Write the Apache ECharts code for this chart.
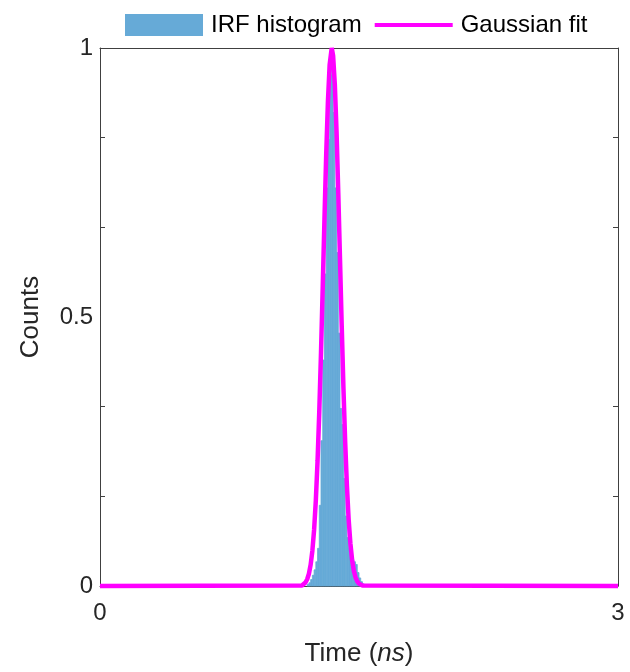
<!DOCTYPE html>
<html>
<head>
<meta charset="utf-8">
<script src="https://cdn.jsdelivr.net/npm/echarts@6/dist/echarts.min.js"></script>
<style>
html,body{margin:0;padding:0;background:#fff;}
#chart{width:630px;height:672px;}
</style>
</head>
<body>
<div id="chart"></div>
<script>
// ---- data ----
const histCenters = [1.205,1.215,1.225,1.235,1.245,1.255,1.265,1.275,1.285,1.295,1.305,1.315,1.325,1.335,1.345,1.355,1.365,1.375,1.385,1.395,1.405,1.415,1.425,1.435,1.445,1.455,1.465,1.475,1.485,1.495,1.505,1.515,1.525];
const histCounts  = [0.003,0.006,0.012,0.02,0.03,0.045,0.07,0.15,0.27,0.42,0.58,0.74,0.83,0.98,0.95,0.88,0.74,0.62,0.47,0.33,0.30,0.20,0.13,0.09,0.07,0.06,0.05,0.045,0.04,0.025,0.015,0.008,0.004];
const binWidth = 0.01;

const fitTime   = [0,1.17,1.19,1.20,1.21,1.22,1.23,1.24,1.25,1.26,1.27,1.28,1.29,1.30,1.31,1.32,1.33,1.342,1.35,1.36,1.37,1.38,1.39,1.40,1.41,1.42,1.43,1.44,1.45,1.46,1.47,1.48,1.49,1.50,1.52,3];
const fitCounts = [0,0.001,0.0066,0.0126,0.0228,0.0396,0.0657,0.1046,0.1593,0.2324,0.3247,0.434,0.556,0.682,0.801,0.900,0.969,1.0,0.986,0.932,0.844,0.731,0.607,0.482,0.3666,0.267,0.1863,0.124,0.0796,0.0487,0.0286,0.016,0.0086,0.0044,0.001,0];

const yLabelValues = [0, 0.5, 1];
const yTickValues  = [1/6, 2/6, 4/6, 5/6];
const xLabelValues = [0, 3];

// ---- chart ----
const FONT = 'Liberation Sans, Arial, Helvetica, sans-serif';
const TXT = '#262626';
const AX = '#404040';
const BLUE = '#66aad7';
const MAG = '#ff00ff';

const histData = histCenters.map((c, i) => [c - binWidth / 2, c + binWidth / 2, histCounts[i]]);
const fitData = fitTime.map((t, i) => [t, fitCounts[i]]);

const chart = echarts.init(document.getElementById('chart'), null, {renderer: 'canvas'});
chart.setOption({
  animation: false,
  backgroundColor: '#fff',
  textStyle: {fontFamily: FONT, color: TXT},
  grid: {left: 100, right: 12, top: 48, bottom: 80, containLabel: false},
  legend: {
    left: 120, top: 8,
    itemWidth: 78, itemHeight: 22, itemGap: 13,
    textStyle: {fontFamily: FONT, fontSize: 24, color: '#000', padding: [0, 0, 0, 3]},
    data: [
      {name: 'IRF histogram', icon: 'rect'},
      {name: 'Gaussian fit', icon: 'path://M0,0 L80,0 L80,4 L0,4 Z'}
    ]
  },
  xAxis: [{
    type: 'value', min: 0, max: 3, position: 'bottom',
    name: 'Time ({i|ns})', nameLocation: 'middle', nameGap: 55,
    nameTextStyle: {fontFamily: FONT, fontSize: 26, color: TXT, rich: {i: {fontStyle: 'italic', fontSize: 26, fontFamily: FONT, color: TXT}}},
    axisLine: {show: true, lineStyle: {color: AX, width: 1}},
    axisTick: {show: false},
    splitLine: {show: false},
    axisLabel: {customValues: xLabelValues, fontSize: 24, color: TXT, fontFamily: FONT, margin: 15}
  }, {
    type: 'value', min: 0, max: 3, position: 'top',
    axisLine: {show: true, onZero: false, lineStyle: {color: AX, width: 1}},
    axisTick: {show: false}, axisLabel: {show: false}, splitLine: {show: false}
  }],
  yAxis: [{
    type: 'value', min: 0, max: 1, position: 'left',
    name: 'Counts', nameLocation: 'middle', nameGap: 56, nameRotate: 90,
    nameTextStyle: {fontFamily: FONT, fontSize: 26, color: TXT},
    axisLine: {show: true, onZero: false, lineStyle: {color: AX, width: 1}},
    axisTick: {show: true, inside: true, length: 5, customValues: yTickValues, lineStyle: {color: AX}},
    splitLine: {show: false},
    axisLabel: {customValues: yLabelValues, fontSize: 24, color: TXT, fontFamily: FONT, margin: 7,
      formatter: v => String(v)}
  }, {
    type: 'value', min: 0, max: 1, position: 'right',
    axisLine: {show: true, onZero: false, lineStyle: {color: AX, width: 1}},
    axisTick: {show: true, inside: true, length: 5, customValues: yTickValues, lineStyle: {color: AX}},
    axisLabel: {show: false}, splitLine: {show: false}
  }],
  series: [{
    name: 'IRF histogram',
    type: 'custom',
    xAxisIndex: 0, yAxisIndex: 0,
    itemStyle: {color: BLUE},
    encode: {x: [0, 1], y: 2},
    data: histData,
    z: 1,
    renderItem: function (params, api) {
      const p0 = api.coord([api.value(0), api.value(2)]);
      const p1 = api.coord([api.value(1), 0]);
      return {
        type: 'rect',
        shape: {x: p0[0], y: p0[1], width: p1[0] - p0[0], height: p1[1] - p0[1]},
        style: {fill: BLUE, stroke: BLUE, lineWidth: 0.8}
      };
    }
  }, {
    name: 'Gaussian fit',
    type: 'line',
    xAxisIndex: 0, yAxisIndex: 0,
    data: fitData,
    showSymbol: false, symbol: 'none',
    clip: false,
    itemStyle: {color: MAG},
    lineStyle: {color: MAG, width: 4.5},
    z: 5
  }]
});
</script>
</body>
</html>
